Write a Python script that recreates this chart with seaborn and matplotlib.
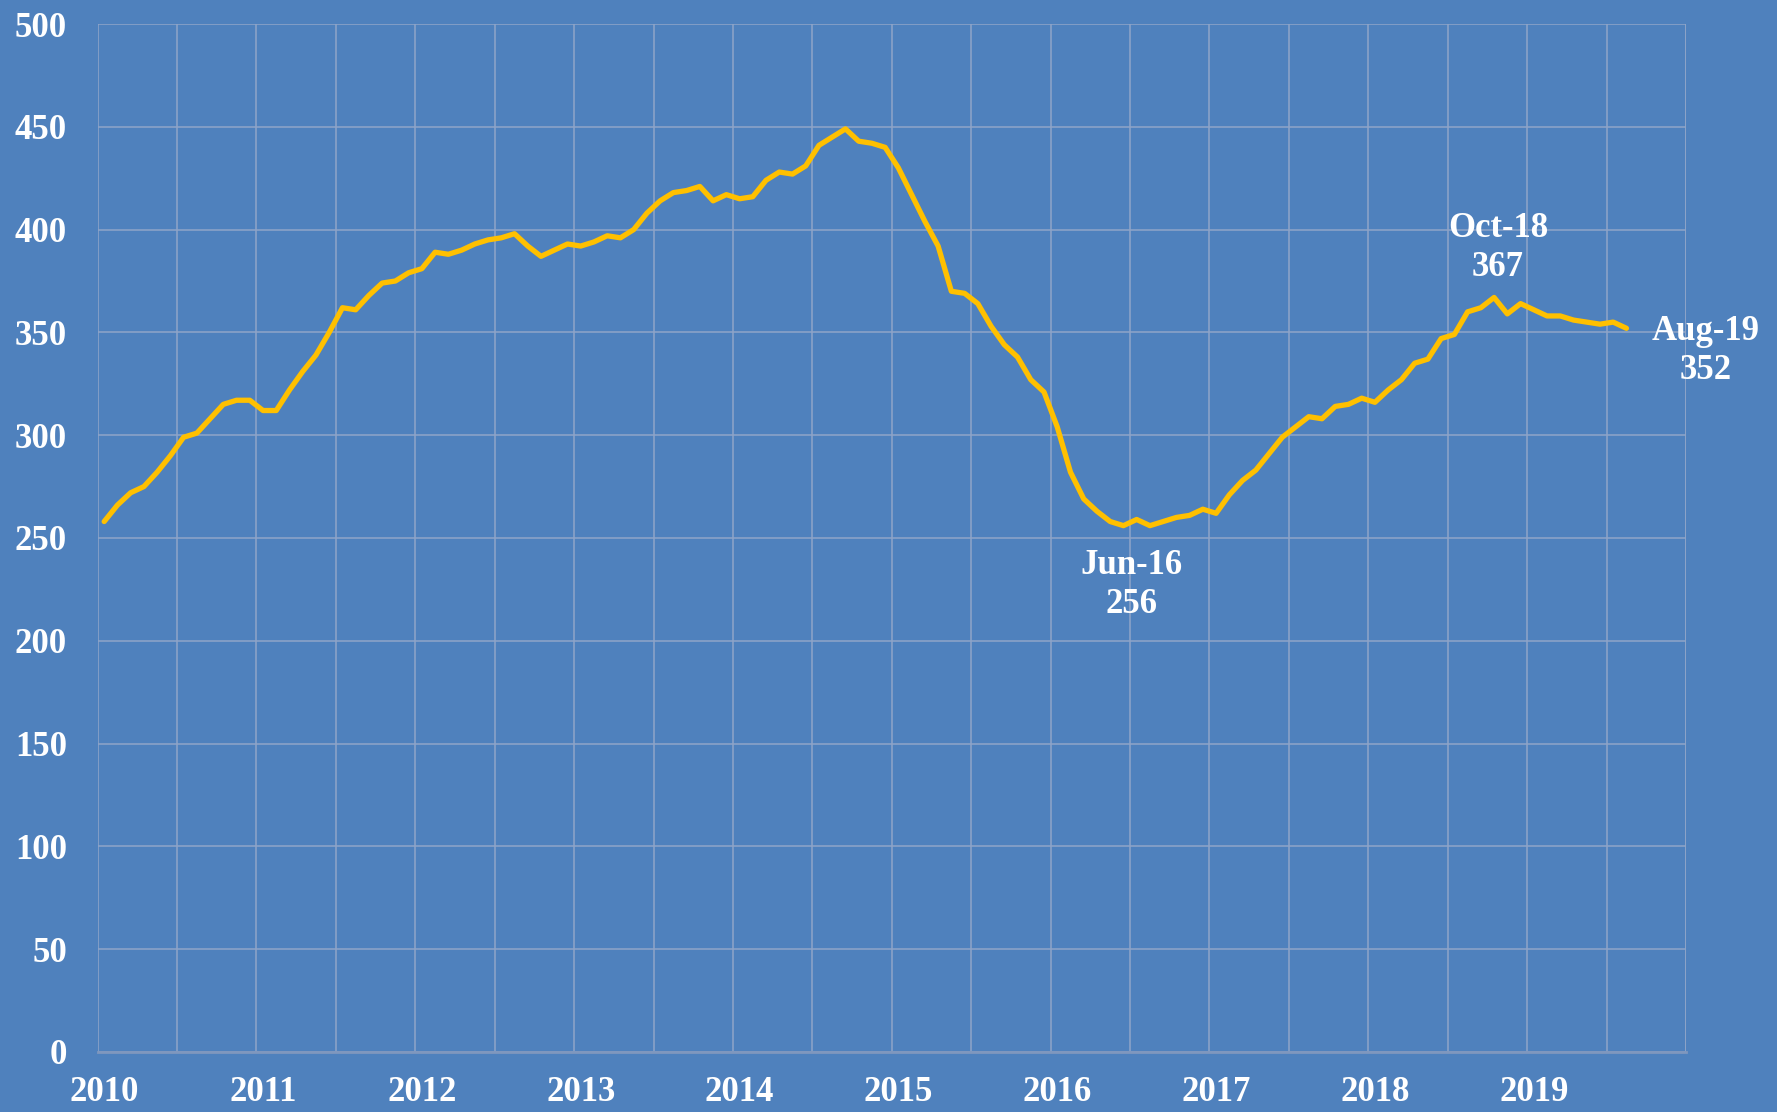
import matplotlib
matplotlib.use("Agg")
import matplotlib.pyplot as plt
import seaborn as sns
import numpy as np
import pandas as pd

values = [
    258, 266, 272, 275, 282, 290, 299, 301, 308, 315, 317, 317,
    312, 312, 322, 331, 339, 350, 362, 361, 368, 374, 375, 379,
    381, 389, 388, 390, 393, 395, 396, 398, 392, 387, 390, 393,
    392, 394, 397, 396, 400, 408, 414, 418, 419, 421, 414, 417,
    415, 416, 424, 428, 427, 431, 441, 445, 449, 443, 442, 440,
    430, 417, 404, 392, 370, 369, 364, 353, 344, 338, 327, 321,
    304, 282, 269, 263, 258, 256, 259, 256, 258, 260, 261, 264,
    262, 271, 278, 283, 291, 299, 304, 309, 308, 314, 315, 318,
    316, 322, 327, 335, 337, 347, 349, 360, 362, 367, 359, 364,
    361, 358, 358, 356, 355, 354, 355, 352,
]
year_labels = ["2010", "2011", "2012", "2013", "2014", "2015", "2016", "2017", "2018", "2019"]
annotations = [("Jun-16", 256, 77), ("Oct-18", 367, 105), ("Aug-19", 352, 115)]
n_months = 120

df = pd.DataFrame({"idx": np.arange(len(values)), "value": values})

bg = "#4F81BD"
grid_c = "#8FA5C8"
sns.set_theme(style="white")
plt.rcParams["font.family"] = ["Liberation Serif", "DejaVu Serif"]
FS = 25

fig = plt.figure(figsize=(17.77, 11.12), dpi=100, facecolor=bg)
ax = fig.add_axes([0.0549, 0.054, 0.8939, 0.9244])
ax.set_facecolor(bg)

sns.lineplot(data=df, x="idx", y="value", ax=ax, color="#FFC000", linewidth=3.8, zorder=3)

ax.set_xlim(-0.5, n_months - 0.5)
ax.set_ylim(0, 500)
ax.set_yticks(np.arange(0, 501, 50))
ax.set_xticks(np.arange(-0.5, n_months, 6), minor=False)
ax.set_xticklabels([])
ax.grid(True, axis="both", color=grid_c, linewidth=1.1, zorder=0)
ax.tick_params(axis="both", length=0)
ax.set_xlabel("")
ax.set_ylabel("")
for lbl in ax.get_yticklabels():
    lbl.set_color("white")
    lbl.set_fontsize(FS)
    lbl.set_fontweight("bold")
ax.tick_params(axis="y", pad=22)
for sp in ["top", "right", "left"]:
    ax.spines[sp].set_visible(False)
ax.spines["bottom"].set_color("#7F97BE")
ax.spines["bottom"].set_linewidth(2)
ax.axvline(n_months - 0.5, color=grid_c, linewidth=1.1, zorder=0)

for k, yl in enumerate(year_labels):
    ax.text(k * 12, -0.039, yl, transform=ax.get_xaxis_transform(),
            ha="center", va="center", color="white", fontsize=FS, fontweight="bold")

offsets = [(0.6, -29), (0.3, 24), (6.0, -11)]
for (lab, v, i), (dx, dy) in zip(annotations, offsets):
    ax.annotate(f"{lab}\n{v}", xy=(i, v), xytext=(i + dx, v + dy), ha="center", va="center",
                color="white", fontsize=FS, fontweight="bold", linespacing=1.25,
                annotation_clip=False)

fig.savefig("out.png", dpi=100, facecolor=bg)
